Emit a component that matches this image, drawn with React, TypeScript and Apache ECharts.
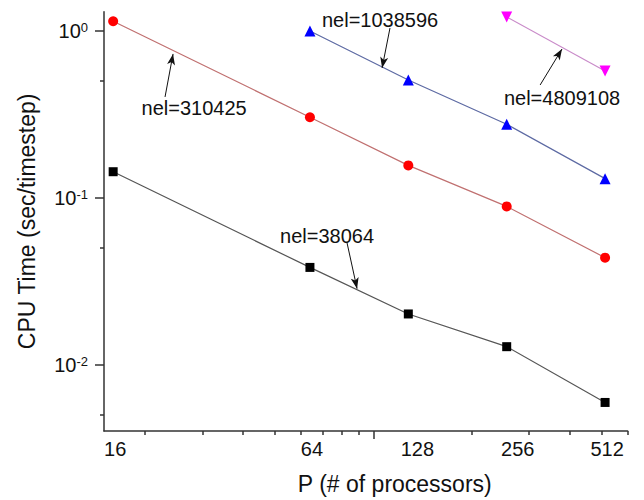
import React, { useEffect, useRef } from "react";
import * as echarts from "echarts";

// Processor counts (x) and CPU time per timestep (y) for each mesh size
const processors = [16, 64, 128, 256, 512];
const nel38064 = [0.143, 0.0382, 0.0201, 0.0128, 0.00593];
const nel310425 = [1.14, 0.303, 0.156, 0.0886, 0.0437];
const nel1038596 = [null, 0.996, 0.507, 0.275, 0.13];
const nel4809108 = [null, null, null, 1.21, 0.574];

// Axis ticks
const xLabelValues = [16, 64, 128, 256, 512];
const xMajorTicks = [100];
const xMinorTicks = [20, 30, 40, 50, 60, 70, 80, 90, 200, 300, 400, 500, 600];
const yMajorTicks = [0.01, 0.1, 1];
const yMinorTicks = [0.005, 0.05, 0.5];

// Annotation text anchors and arrows, in data coordinates
const annotations = [
  { text: "nel=38064", at: [72.2, 0.0592], from: [83.1, 0.0537], to: [89.2, 0.0285] },
  { text: "nel=310425", at: [28.3, 0.345], from: [23.06, 0.401], to: [24.4, 0.726] },
  { text: "nel=1038596", at: [104.9, 1.159], from: [112.5, 1.038], to: [106.4, 0.598] },
  { text: "nel=4809108", at: [378, 0.396], from: [324, 0.473], to: [378, 0.777] },
];

const FONT = "'Liberation Sans', Arial, sans-serif";

// Left padding that nudges some x tick labels to the right
const xLabelNudge: Record<number, number> = { 16: 4, 64: 4, 128: 18, 256: 22, 512: 4 };

function pairs(ys: (number | null)[]) {
  const out: [number, number][] = [];
  ys.forEach((y, i) => {
    if (y !== null) out.push([processors[i], y]);
  });
  return out;
}

export default function App() {
  const ref = useRef<HTMLDivElement>(null);

  useEffect(() => {
    if (!ref.current) return;
    const chart = echarts.init(ref.current, undefined, { renderer: "svg" });

    const axisColor = "#333";
    const xRange = { min: 15, max: 600 };
    const yRange = { min: 0.004, max: 1.3 };

    const series: any[] = [
      {
        name: "nel=38064",
        data: pairs(nel38064),
        color: "#000",
        symbol: "rect",
        symbolSize: 9,
        lineColor: "#555",
      },
      {
        name: "nel=310425",
        data: pairs(nel310425),
        color: "#ff0000",
        symbol: "circle",
        symbolSize: 10,
        lineColor: "#c07070",
      },
      {
        name: "nel=1038596",
        data: pairs(nel1038596),
        color: "#0000ff",
        symbol: "triangle",
        symbolSize: 11,
        lineColor: "#5d6aa3",
      },
      {
        name: "nel=4809108",
        data: pairs(nel4809108),
        color: "#ff00ff",
        symbol: "triangle",
        symbolSize: 11,
        symbolRotate: 180,
        lineColor: "#c98bc9",
      },
    ].map((s) => ({
      type: "line",
      name: s.name,
      data: s.data,
      xAxisIndex: 0,
      yAxisIndex: 0,
      symbol: s.symbol,
      symbolSize: s.symbolSize,
      symbolRotate: s.symbolRotate || 0,
      showAllSymbol: true,
      itemStyle: { color: s.color },
      lineStyle: { color: s.lineColor, width: 1.2 },
      z: 3,
    }));

    // Arrows and texts for the annotations
    series.push({
      type: "line",
      data: [],
      xAxisIndex: 0,
      yAxisIndex: 0,
      silent: true,
      markLine: {
        silent: true,
        symbol: ["none", "arrow"],
        symbolSize: [6, 11],
        label: { show: false },
        lineStyle: { color: "#111", width: 1, type: "solid" },
        data: annotations.map((a) => [{ coord: a.from }, { coord: a.to }]),
      },
      markPoint: {
        silent: true,
        symbol: "circle",
        symbolSize: 0,
        label: {
          show: true,
          position: "inside",
          color: "#111",
          fontSize: 20,
          fontFamily: FONT,
          formatter: (p: any) => p.name,
        },
        data: annotations.map((a) => ({ name: a.text, coord: a.at })),
      },
    });

    const xRich: Record<string, any> = {};
    xLabelValues.forEach((v) => {
      xRich["n" + v] = {
        fontSize: 20,
        fontFamily: FONT,
        color: "#111",
        padding: [0, 0, 0, xLabelNudge[v] || 0],
      };
    });

    chart.setOption({
      animation: false,
      backgroundColor: "#fff",
      grid: { left: 104, top: 11.7, width: 523.6, height: 420.3, containLabel: false },
      xAxis: [
        {
          type: "log",
          logBase: 10,
          ...xRange,
          position: "bottom",
          name: "P (# of processors)",
          nameLocation: "middle",
          nameGap: 41,
          nameTextStyle: {
            fontSize: 23,
            fontFamily: FONT,
            color: "#111",
            padding: [0, 0, 0, 58],
          },
          axisLine: { show: true, lineStyle: { color: axisColor, width: 1.5 } },
          axisTick: {
            show: true,
            length: 8,
            customValues: xMajorTicks,
            lineStyle: { color: axisColor, width: 1.5 },
          },
          axisLabel: {
            show: true,
            customValues: xLabelValues,
            margin: 8,
            fontSize: 20,
            fontFamily: FONT,
            color: "#111",
            formatter: (v: number) => {
              const n = Math.round(v);
              return `{n${n}|${n}}`;
            },
            rich: xRich,
          },
          splitLine: { show: false },
          minorTick: { show: false },
        },
        {
          type: "log",
          logBase: 10,
          ...xRange,
          position: "bottom",
          offset: 0,
          axisLine: { show: false },
          axisTick: {
            show: true,
            length: 4,
            customValues: xMinorTicks,
            lineStyle: { color: axisColor, width: 1.5 },
          },
          axisLabel: { show: false },
          splitLine: { show: false },
        },
      ],
      yAxis: [
        {
          type: "log",
          logBase: 10,
          ...yRange,
          position: "left",
          name: "CPU Time (sec/timestep)",
          nameLocation: "middle",
          nameGap: 66,
          nameRotate: 90,
          nameTextStyle: { fontSize: 23, fontFamily: FONT, color: "#111" },
          axisLine: { show: true, lineStyle: { color: axisColor, width: 1.5 } },
          axisTick: {
            show: true,
            length: 9,
            customValues: yMajorTicks,
            lineStyle: { color: axisColor, width: 1.5 },
          },
          axisLabel: {
            show: true,
            customValues: yMajorTicks,
            margin: 16,
            fontFamily: FONT,
            color: "#111",
            fontSize: 20,
            formatter: (v: number) => `{b|10}{s|${Math.round(Math.log10(v))}}`,
            rich: {
              b: { fontSize: 20, fontFamily: FONT, color: "#111", verticalAlign: "bottom" },
              s: { fontSize: 13, fontFamily: FONT, color: "#111", verticalAlign: "top" },
            },
          },
          splitLine: { show: false },
          minorTick: { show: false },
        },
        {
          type: "log",
          logBase: 10,
          ...yRange,
          position: "left",
          offset: 0,
          axisLine: { show: false },
          axisTick: {
            show: true,
            length: 4,
            customValues: yMinorTicks,
            lineStyle: { color: axisColor, width: 1.5 },
          },
          axisLabel: { show: false },
          splitLine: { show: false },
        },
      ],
      series,
    });

    return () => chart.dispose();
  }, []);

  return (
    <div
      ref={ref}
      style={{ position: "fixed", left: 0, top: 0, width: 644, height: 500, background: "#fff" }}
    />
  );
}
